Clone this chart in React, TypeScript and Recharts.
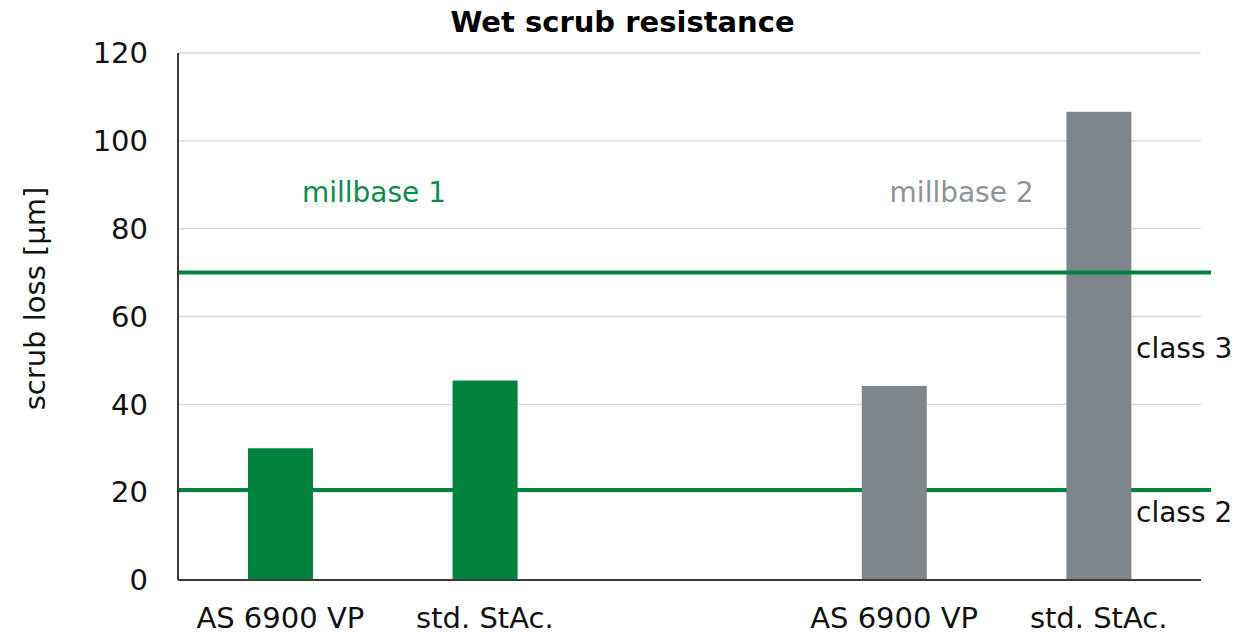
import { BarChart, Bar, Cell, XAxis, YAxis, CartesianGrid, ReferenceLine } from 'recharts';

const categories = ['AS 6900 VP', 'std. StAc.', '', 'AS 6900 VP', 'std. StAc.'];
const scrubLoss = [30, 45.4, null, 44.2, 106.6];
const groups = ['millbase 1', 'millbase 1', '', 'millbase 2', 'millbase 2'];
const upperLimit = 70;
const lowerLimit = 20.5;
const yTicks = [0, 20, 40, 60, 80, 100, 120];

const GREEN = '#00843d';
const GRAY = '#7f868b';
const FONT = '"DejaVu Sans", Verdana, sans-serif';

const data = categories.map((name, i) => ({ name, value: scrubLoss[i], group: groups[i] }));

// text placed at a data height; frac = share of the plot width
const annotation = (text: string, frac: number, color: string, anchor: 'middle' | 'start') =>
  (props: any) => {
    const vb = props.viewBox || {};
    return (
      <text
        x={vb.x + vb.width * frac}
        y={vb.y}
        fill={color}
        fontSize={28}
        fontFamily={FONT}
        textAnchor={anchor}
      >
        {text}
      </text>
    );
  };

const extendedLine = (props: any) => (
  <line x1={props.x1} y1={props.y1} x2={props.x2 + 10} y2={props.y2} stroke={GREEN} strokeWidth={4} />
);

const App = () => {
  return (
    <div style={{ position: 'absolute', left: 0, top: 0, width: 1258, height: 635, background: '#fff' }}>
      <div
        style={{
          position: 'absolute',
          top: 8,
          left: 0,
          width: 1245,
          textAlign: 'center',
          fontFamily: FONT,
          fontWeight: 'bold',
          fontSize: 29,
          lineHeight: '29px',
          color: '#000',
        }}
      >
        Wet scrub resistance
      </div>
      <BarChart
        width={1258}
        height={635}
        data={data}
        margin={{ top: 53, right: 57, bottom: 0, left: 0 }}
        style={{ fontFamily: FONT }}
      >
        <CartesianGrid vertical={false} stroke="#d9d9d9" strokeWidth={1.3} />
        <XAxis
          dataKey="name"
          height={55}
          tickLine={false}
          tickSize={0}
          tickMargin={27}
          interval={0}
          axisLine={{ stroke: '#3a3a3a', strokeWidth: 2 }}
          tick={{ fill: '#111', fontSize: 29, fontFamily: FONT }}
        />
        <YAxis
          width={178}
          domain={[0, 120]}
          ticks={yTicks}
          tickLine={false}
          tickSize={0}
          tickMargin={30}
          axisLine={{ stroke: '#3a3a3a', strokeWidth: 2 }}
          tick={{ fill: '#111', fontSize: 29, fontFamily: FONT }}
          label={{
            content: (props: any) => {
              const vb = props.viewBox || {};
              const cx = 35;
              const cy = vb.y + vb.height / 2 - 18;
              return (
                <text
                  x={cx}
                  y={cy}
                  transform={`rotate(-90, ${cx}, ${cy})`}
                  textAnchor="middle"
                  dominantBaseline="central"
                  fontSize={29}
                  fontFamily={FONT}
                  fill="#111"
                >
                  scrub loss [µm]
                </text>
              );
            },
          }}
        />
        {/* class 2 limit sits behind the bars, class 3 limit in front */}
        <ReferenceLine y={lowerLimit} ifOverflow="visible" shape={extendedLine} zIndex={200} />
        <Bar dataKey="value" barSize={65} isAnimationActive={false}>
          {data.map((d, i) => (
            <Cell key={i} fill={d.group === 'millbase 1' ? GREEN : GRAY} />
          ))}
        </Bar>
        <ReferenceLine y={upperLimit} ifOverflow="visible" shape={extendedLine} />
        <ReferenceLine y={86.1} stroke="none" ifOverflow="visible" label={{ content: annotation('millbase 1', 0.1916, '#0b8c4b', 'middle') }} />
        <ReferenceLine y={86.1} stroke="none" ifOverflow="visible" label={{ content: annotation('millbase 2', 0.766, '#8c9399', 'middle') }} />
        <ReferenceLine y={50.5} stroke="none" ifOverflow="visible" label={{ content: annotation('class 3', 0.9365, '#111', 'start') }} />
        <ReferenceLine y={13.3} stroke="none" ifOverflow="visible" label={{ content: annotation('class 2', 0.9365, '#111', 'start') }} />
      </BarChart>
    </div>
  );
};

export default App;
